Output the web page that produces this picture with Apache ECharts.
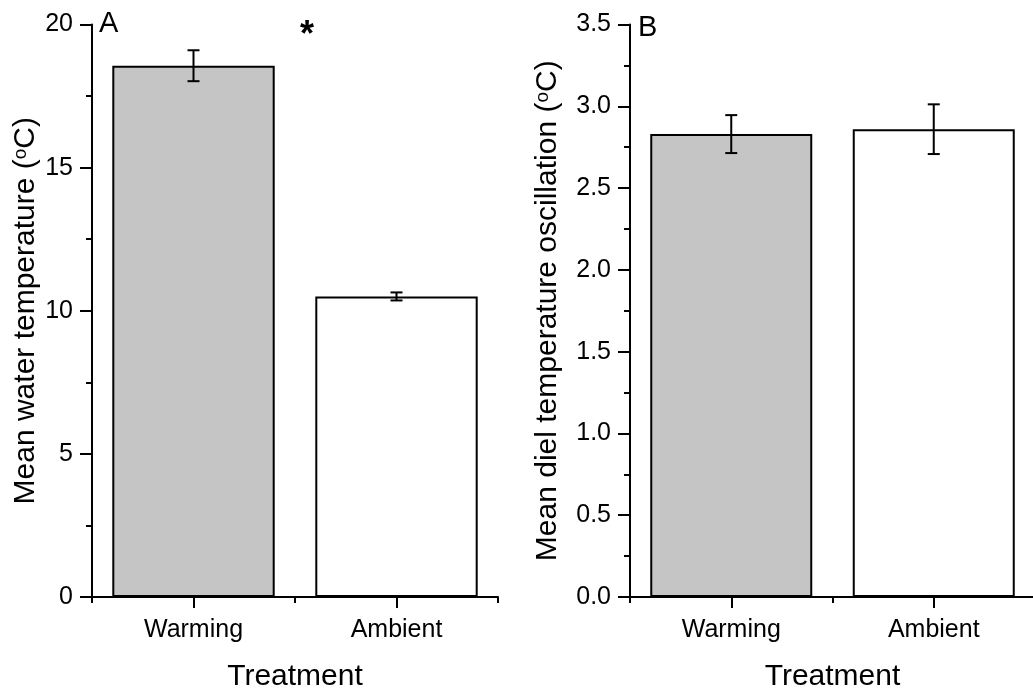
<!DOCTYPE html>
<html>
<head>
<meta charset="utf-8">
<script src="https://cdn.jsdelivr.net/npm/echarts@6/dist/echarts.min.js"></script>
<style>
html,body{margin:0;padding:0;background:#fff;}
#c{width:1033px;height:691px;}
</style>
</head>
<body>
<div id="c"></div>
<script>
const categories = ['Warming', 'Ambient'];
const tempMean = [18.56, 10.50];
const tempErr = [0.54, 0.14];
const oscMean = [2.83, 2.86];
const oscErr = [0.116, 0.152];
const barColors = ['#c5c5c5', '#ffffff'];
const tempTicks = { min: 0, max: 20, interval: 5 };
const oscTicks = { min: 0, max: 3.5, interval: 0.5 };

const FONT = 'Liberation Sans, Arial, sans-serif';
const TICK_FS = 25;
const TITLE_FS = 30;

const chart = echarts.init(document.getElementById('c'), null, { renderer: 'canvas' });

function errData(mean, err) {
  return mean.map((m, i) => [i, m - err[i], m + err[i]]);
}
function barData(mean) {
  return mean.map((m, i) => ({ value: m, itemStyle: { color: barColors[i] } }));
}
function errRender(params, api) {
  const x = api.value(0);
  const lo = api.coord([x, api.value(1)]);
  const hi = api.coord([x, api.value(2)]);
  const hw = 6;
  const style = { stroke: '#000', lineWidth: 2 };
  return {
    type: 'group',
    children: [
      { type: 'line', shape: { x1: lo[0], y1: lo[1], x2: hi[0], y2: hi[1] }, style },
      { type: 'line', shape: { x1: lo[0] - hw, y1: lo[1], x2: lo[0] + hw, y2: lo[1] }, style },
      { type: 'line', shape: { x1: hi[0] - hw, y1: hi[1], x2: hi[0] + hw, y2: hi[1] }, style }
    ]
  };
}
const axisLine = { show: true, lineStyle: { color: '#000', width: 2 } };

function xAxes(gridIndex) {
  return [
    {
      type: 'category', gridIndex, position: 'bottom', data: categories,
      axisLine,
      axisTick: { show: true, alignWithLabel: true, length: 11, lineStyle: { color: '#000', width: 2 } },
      axisLabel: { color: '#000', fontSize: TICK_FS, fontFamily: FONT, margin: 21 },
      name: 'Treatment', nameLocation: 'middle', nameGap: 65,
      nameTextStyle: { color: '#000', fontSize: TITLE_FS, fontFamily: FONT }
    },
    {
      type: 'category', gridIndex, position: 'bottom', data: categories,
      axisLine: { show: false },
      axisTick: { show: true, alignWithLabel: false, length: 6, lineStyle: { color: '#000', width: 2 } },
      axisLabel: { show: false }
    }
  ];
}
function yAxis(gridIndex, ticks, name, nameGap, decimals) {
  return {
    type: 'value', gridIndex, min: ticks.min, max: ticks.max, interval: ticks.interval,
    axisLine,
    axisTick: { show: true, length: 12, lineStyle: { color: '#000', width: 2 } },
    minorTick: { show: true, splitNumber: 2, length: 6, lineStyle: { color: '#000', width: 2 } },
    splitLine: { show: false },
    axisLabel: {
      color: '#000', fontSize: TICK_FS, fontFamily: FONT, margin: 19,
      formatter: v => v.toFixed(decimals)
    },
    name, nameLocation: 'middle', nameGap, nameRotate: 90,
    nameTextStyle: {
      color: '#000', fontSize: TITLE_FS, fontFamily: FONT,
      rich: { sup: { fontSize: 19, verticalAlign: 'top', padding: [0, 0, 11, 0], fontFamily: FONT, color: '#000' } }
    }
  };
}

const option = {
  animation: false,
  backgroundColor: '#fff',
  grid: [
    { left: 92, right: 535, top: 24.5, bottom: 94, containLabel: false, outerBoundsMode: 'none' },
    { left: 630, right: -2, top: 24.5, bottom: 94, containLabel: false, outerBoundsMode: 'none' }
  ],
  xAxis: [...xAxes(0), ...xAxes(1)],
  yAxis: [
    yAxis(0, tempTicks, 'Mean water temperature ({sup|o}C)', 51, 0),
    yAxis(1, oscTicks, 'Mean diel temperature oscillation ({sup|o}C)', 67, 1)
  ],
  series: [
    {
      type: 'bar', xAxisIndex: 0, yAxisIndex: 0, barWidth: '80%',
      itemStyle: { borderColor: '#000', borderWidth: 2 },
      data: barData(tempMean)
    },
    { type: 'custom', xAxisIndex: 0, yAxisIndex: 0, renderItem: errRender, data: errData(tempMean, tempErr), z: 5 },
    {
      type: 'bar', xAxisIndex: 2, yAxisIndex: 1, barWidth: '80%',
      itemStyle: { borderColor: '#000', borderWidth: 2 },
      data: barData(oscMean)
    },
    { type: 'custom', xAxisIndex: 2, yAxisIndex: 1, renderItem: errRender, data: errData(oscMean, oscErr), z: 5 }
  ],
  graphic: [
    { type: 'text', left: 99, top: 9, style: { text: 'A', fontSize: 29, fontFamily: FONT, fill: '#000' } },
    { type: 'text', left: 638, top: 13, style: { text: 'B', fontSize: 29, fontFamily: FONT, fill: '#000' } },
    { type: 'text', left: 300, top: 18, style: { text: '*', fontSize: 36, fontWeight: 'bold', fontFamily: FONT, fill: '#000' } }
  ]
};
chart.setOption(option);
</script>
</body>
</html>
